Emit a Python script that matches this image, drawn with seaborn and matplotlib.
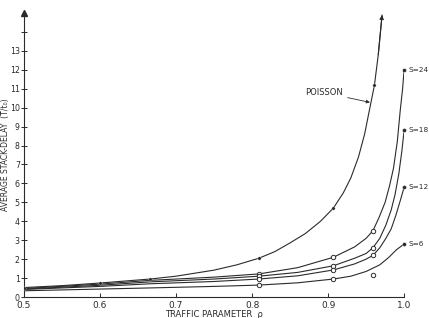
import matplotlib
matplotlib.use("Agg")
import matplotlib.pyplot as plt
import pandas as pd
import seaborn as sns

# curves
poisson_x = [0.5, 0.55, 0.6, 0.666, 0.7, 0.75, 0.78, 0.809, 0.83, 0.85, 0.87, 0.89, 0.907,
             0.92, 0.93, 0.94, 0.948, 0.955, 0.961, 0.966, 0.971]
poisson_y = [0.5, 0.6, 0.74, 0.95, 1.1, 1.42, 1.7, 2.05, 2.4, 2.86, 3.35, 4.0, 4.7,
             5.5, 6.3, 7.4, 8.6, 10.0, 11.2, 12.8, 14.9]
poisson_mx = [0.5, 0.6, 0.666, 0.809, 0.907, 0.961]
poisson_my = [0.5, 0.74, 0.95, 2.05, 4.7, 11.2]

s24_x = [0.5, 0.6, 0.666, 0.75, 0.809, 0.86, 0.907, 0.935, 0.95, 0.959, 0.967, 0.975,
         0.981, 0.986, 0.991, 0.995, 0.998, 1.0]
s24_y = [0.45, 0.68, 0.88, 1.05, 1.22, 1.55, 2.1, 2.65, 3.1, 3.5, 4.2, 5.0,
         5.9, 6.8, 8.2, 9.9, 11.0, 12.0]
s18_x = [0.5, 0.6, 0.666, 0.75, 0.809, 0.86, 0.907, 0.935, 0.95, 0.959, 0.968, 0.976,
         0.983, 0.988, 0.993, 0.997, 1.0]
s18_y = [0.42, 0.62, 0.8, 0.95, 1.1, 1.3, 1.65, 2.05, 2.3, 2.6, 3.1, 3.8,
         4.6, 5.4, 6.5, 7.7, 8.8]
s12_x = [0.5, 0.6, 0.666, 0.75, 0.809, 0.86, 0.907, 0.935, 0.95, 0.959, 0.968, 0.976,
         0.983, 0.989, 0.995, 1.0]
s12_y = [0.4, 0.56, 0.7, 0.82, 0.95, 1.12, 1.43, 1.75, 2.0, 2.2, 2.6, 3.1,
         3.6, 4.3, 5.1, 5.8]
s6_x = [0.5, 0.6, 0.666, 0.75, 0.809, 0.86, 0.907, 0.93, 0.95, 0.968, 0.98, 0.99, 1.0]
s6_y = [0.33, 0.42, 0.48, 0.56, 0.63, 0.75, 0.95, 1.1, 1.35, 1.7, 2.1, 2.5, 2.8]

s_mark_x = [0.809, 0.907, 0.959]
s24_mark = [1.22, 2.1, 3.5]
s18_mark = [1.1, 1.65, 2.6]
s12_mark = [0.95, 1.43, 2.2]
s6_mark = [0.63, 0.95, 1.16]

s_labels = ["S=24", "S=18", "S=12", "S=6"]
s_ends = [12.0, 8.8, 5.8, 2.8]

y_ticks = list(range(0, 15))
y_tick_labels = [str(v) for v in range(0, 14)] + [""]
x_ticks = [0.5, 0.6, 0.7, 0.8, 0.9, 1.0]
x_tick_labels = ["0.5", "0.6", "0.7", "0.8", "0.9", "1.0"]

ink = "#2b2b2b"

sns.set_style("ticks")
plt.rcParams["font.family"] = ["DejaVu Sans"]

curves = pd.concat([
    pd.DataFrame({"x": poisson_x, "y": poisson_y, "curve": "POISSON"}),
    pd.DataFrame({"x": s24_x, "y": s24_y, "curve": "S=24"}),
    pd.DataFrame({"x": s18_x, "y": s18_y, "curve": "S=18"}),
    pd.DataFrame({"x": s12_x, "y": s12_y, "curve": "S=12"}),
    pd.DataFrame({"x": s6_x, "y": s6_y, "curve": "S=6"}),
])
open_marks = pd.concat([
    pd.DataFrame({"x": s_mark_x, "y": s24_mark}),
    pd.DataFrame({"x": s_mark_x, "y": s18_mark}),
    pd.DataFrame({"x": s_mark_x, "y": s12_mark}),
    pd.DataFrame({"x": s_mark_x, "y": s6_mark}),
])
end_marks = pd.DataFrame({"x": [1.0] * 4, "y": s_ends})
filled_marks = pd.DataFrame({"x": poisson_mx, "y": poisson_my})

fig = plt.figure(figsize=(4.29, 3.18), dpi=100)
ax = fig.add_axes([0.056, 0.066, 0.886, 0.893])

sns.lineplot(data=curves, x="x", y="y", units="curve", estimator=None, sort=False,
             color=ink, linewidth=0.8, ax=ax, legend=False)
sns.scatterplot(data=open_marks, x="x", y="y", marker="o", s=10, facecolor="white",
                edgecolor=ink, linewidth=0.7, ax=ax, zorder=3, legend=False)
sns.scatterplot(data=end_marks, x="x", y="y", marker="o", s=8, color=ink,
                ax=ax, zorder=3, legend=False, clip_on=False)
sns.scatterplot(data=filled_marks, x="x", y="y", marker="o", s=6, color=ink,
                ax=ax, zorder=3, legend=False)

# arrow head at the end of the poisson curve
ax.annotate("", xy=(poisson_x[-1], poisson_y[-1]), xytext=(poisson_x[-2], poisson_y[-2]),
            arrowprops=dict(arrowstyle="-|>", color=ink, lw=0.8, mutation_scale=6,
                            shrinkA=0, shrinkB=0))
ax.annotate("POISSON", xy=(0.955, 10.28), xytext=(0.87, 10.8), fontsize=6, color=ink,
            va="center", ha="left",
            arrowprops=dict(arrowstyle="-|>", color=ink, lw=0.6, mutation_scale=5,
                            shrinkA=1, shrinkB=0))
for lab, yv in zip(s_labels, s_ends):
    ax.text(1.006, yv, lab, fontsize=5.3, color=ink, va="center", ha="left")

ax.set_xlim(0.5, 1.0)
ax.set_ylim(0, 15)
ax.set_xticks(x_ticks)
ax.set_xticklabels(x_tick_labels)
ax.set_yticks(y_ticks)
ax.set_yticklabels(y_tick_labels)
ax.tick_params(axis="both", direction="in", length=3, width=0.7, labelsize=6.5,
               colors=ink, pad=3)
ax.tick_params(axis="y", direction="inout", length=4, pad=1, labelsize=5.7)
for side in ["top", "right"]:
    ax.spines[side].set_visible(False)
for side in ["left", "bottom"]:
    ax.spines[side].set_color(ink)
    ax.spines[side].set_linewidth(0.8)
# arrowhead on the y axis
ax.plot([0.5], [15], marker="^", markersize=4, color=ink, clip_on=False)

ax.set_xlabel("TRAFFIC PARAMETER  ρ", fontsize=6, color=ink, labelpad=0)
ax.set_ylabel("AVERAGE STACK-DELAY  (T\u0304/t\u2080)", fontsize=5.5, color=ink,
              va="center")
ax.yaxis.set_label_coords(-0.049, 0.5)

fig.savefig("out.png", dpi=100)
